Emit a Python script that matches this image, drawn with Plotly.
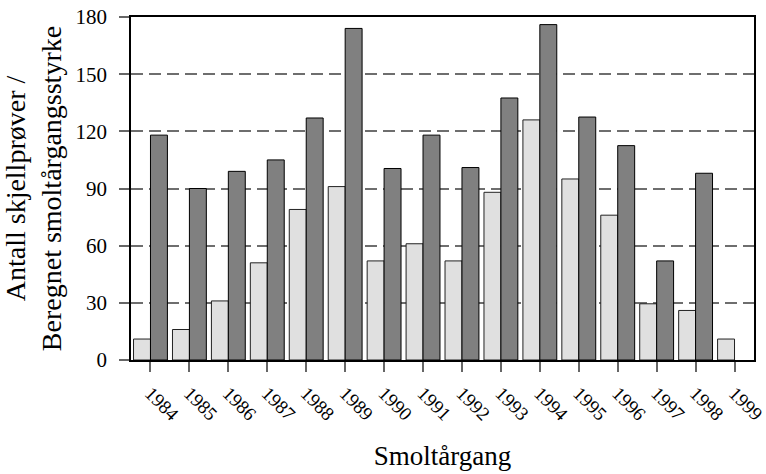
import plotly.graph_objects as go

# Smolt year classes
years = ["1984", "1985", "1986", "1987", "1988", "1989", "1990", "1991",
         "1992", "1993", "1994", "1995", "1996", "1997", "1998", "1999"]

# Number of scale samples per year class
scale_samples = [11, 16, 31, 51, 79, 91, 52, 61, 52, 88, 126, 95, 76, 29.5, 26, 11]

# Estimated smolt year-class strength
year_class_strength = [118, 90, 99, 105, 127, 174, 100.5, 118, 101, 137.5,
                       176, 127.5, 112.5, 52, 98, None]

y_ticks = [0, 30, 60, 90, 120, 150, 180]

FONT = "Liberation Serif"

fig = go.Figure()
fig.add_trace(go.Bar(
    x=years, y=scale_samples,
    marker=dict(color="#e0e0e0", line=dict(color="#222222", width=1)),
    showlegend=False,
))
fig.add_trace(go.Bar(
    x=years, y=year_class_strength,
    marker=dict(color="#808080", line=dict(color="#000000", width=1)),
    showlegend=False,
))

fig.update_layout(
    width=766, height=474,
    margin=dict(l=131, r=12, t=17, b=114),
    paper_bgcolor="white", plot_bgcolor="white",
    barmode="group", bargap=0.13, bargroupgap=0.0,
    font=dict(family=FONT, size=20, color="black"),
    showlegend=False,
)

fig.update_xaxes(
    type="category",
    automargin=False,
    tickangle=45,
    tickfont=dict(family=FONT, size=19, color="black"),
    ticks="outside", ticklen=10, tickcolor="#666666", tickwidth=1.5,
    ticklabelstandoff=3,
    showline=True, linecolor="black", linewidth=1.5, mirror=True,
    showgrid=False,
    title=dict(text="Smoltårgang", font=dict(family=FONT, size=27), standoff=22),
)

fig.update_yaxes(
    range=[0, 180],
    automargin=False,
    tickvals=y_ticks,
    tickfont=dict(family=FONT, size=21, color="black"),
    ticks="outside", ticklen=10, tickcolor="#666666", tickwidth=1.5,
    ticklabelstandoff=8,
    showline=True, linecolor="black", linewidth=1.5, mirror=True,
    showgrid=True, gridcolor="#6e6e6e", gridwidth=1.5, griddash="12px,6px",
    zeroline=False,
    title=dict(text="Antall skjellprøver /<br>Beregnet smoltårgangsstyrke",
               font=dict(family=FONT, size=28), standoff=10),
)

fig.write_html("out.html")
